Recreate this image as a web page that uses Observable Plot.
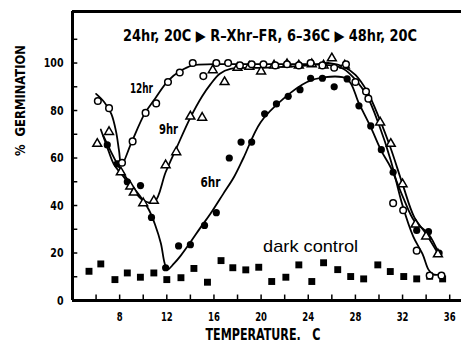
<!DOCTYPE html>
<html><head><meta charset="utf-8">
<script src="https://cdn.jsdelivr.net/npm/d3@7"></script>
<script src="https://cdn.jsdelivr.net/npm/@observablehq/plot@0.6"></script>
<style>
body{margin:0;background:#fff;}
</style></head><body><div id="chart"></div>
<script>
// 12hr (open circles)
const temp12 = [6.15,7.1,8.2,9.1,10.2,11.1,12.1,13.1,14.2,15.1,16.2,17.2,18.2,19.2,20.2,21.2,22.2,23.2,24.2,25.2,26.2,27.2,28.0,28.9,29.1,31.2,32.05,33.2,34.3,35.3];
const germ12 = [84,81,58,67,79,83,92,96,100,94.5,100,100,99,99.5,99.5,99,99.5,99,100,99,98,99.5,92,88,85,41,38,21,10.5,10.5];
const curve12T = [6.0,6.7,7.3,7.7,7.95,8.15,9.0,10.1,11.0,12.1,13.1,14.2,16,20,24,26,27,28,29,30,31,32,32.9,33.7,34.2,34.6,35.3];
const curve12G = [87,83.5,78.5,71,63,57,66.5,78.5,85,92.5,96.5,99,99.5,99.5,99.5,99,97.5,93,86,74,59,40,27,19.5,13,11,11];

// 9hr (open triangles)
const temp9 = [6.1,7.1,8.1,8.9,9.2,10.0,10.9,11.9,12.8,14.0,15.0,15.9,16.9,18.0,19.0,20.0,21.1,22.2,23.2,24.3,25.3,26.0,27.1,30.1,31.0,32.0,33.1,34.0,35.0];
const germ9 = [66,71,54,48,45.5,41,42,57,62.5,77.5,77,97,92,98,98.5,96.5,99,99.5,99,99.5,99,102,99,75,66,49,32,27,19.5];
const curve9T = [6.4,6.95,7.5,8.35,9.2,10.05,10.95,11.9,12.8,14,15,15.7,16.5,17.4,20,24,25.8,27,28,29,30,31,32,33,34,35.1];
const curve9G = [72,64.5,57.5,52,46.3,42,41.5,54,64,77,86,91,95.5,97.5,98,99,100,98.5,95,88,77,64,49,35,28,19];

// 6hr (filled circles)
const temp6 = [6.95,7.8,8.65,9.77,10.7,11.9,13.0,14.0,15.2,16.2,17.3,18.3,19.2,20.3,21.3,22.3,23.3,24.2,25.2,26.2,27.3,28.3,29.3,30.2,31.2,33.2,34.2,35.1];
const germ6 = [65.5,57.5,50,48.4,35,13.8,23,23.5,31.6,37,60,66.7,66.7,78.6,82.8,86,88.8,93.6,93.6,90,93.3,82,73.5,63.5,54,29.5,29,20];
const curve6T = [6.6,7.8,8.8,9.8,10.5,11.0,11.5,11.8,12.05,12.6,13.2,14.0,14.9,15.7,16.8,17.7,18.5,19.95,21.9,23.9,25.3,27.3,28.3,29.3,30.2,31,32,33,34.2,35.1];
const curve6G = [69.5,57.5,50,43.5,38,32,24,16,13,15.5,19,24.5,31,36.5,45,52,60,75,85,92,94,93.3,83,73,63,56,44,33.5,28,19.5];

// dark control (filled squares)
const tempDark = [5.4,6.4,7.6,8.65,9.76,10.9,12.0,13.2,14.3,15.45,16.6,17.6,18.7,19.8,20.9,22.1,23.2,24.3,25.3,26.5,27.6,28.7,29.9,30.96,32.1,33.2,34.3,35.4];
const germDark = [12.3,15.4,8.8,11.6,9.8,11.6,8.8,9.6,13.5,7.7,16.8,13.8,12.9,14,8,9.8,15,8,15.9,13,10.1,9.1,15,12.2,10.1,9.1,10.2,9.1];

const xTickValues = [6,8,10,12,14,16,18,20,22,24,26,28,30,32,34,36];
const xTickLabels = [8,12,16,20,24,28,32,36];
const yTickValues = [10,20,30,40,50,60,70,80,90,100,110];
const yTickLabels = [0,20,40,60,80,100];

const titleText = "24hr, 20C \u25B6 R\u2013Xhr\u2013FR, 6\u201336C \u25B6 48hr, 20C";
const seriesLabels = ["12hr", "9hr", "6hr"];
const darkLabel = "dark control";
const xLabel = "TEMPERATURE.\u00a0\u00a0\u00a0C";
const yLabel = "%\u00a0\u00a0GERMINATION";

const rows = (xs, ys) => xs.map((x, i) => ({x, y: ys[i]}));
const narrow = "'Liberation Sans Narrow', 'DejaVu Sans Condensed', sans-serif";
const yTop = 121.7;

const chart = Plot.plot({
  width: 461, height: 347,
  marginLeft: 72, marginRight: 0, marginTop: 11, marginBottom: 47,
  x: {domain: [4, 37]},
  y: {domain: [0, yTop]},
  style: {fontFamily: narrow, fontWeight: "bold", background: "white", color: "black"},
  marks: [
    Plot.ruleX(xTickValues, {y1: 0, y2: 2.3, strokeWidth: 1.5}),
    Plot.ruleY(yTickValues, {x1: 4, x2: 4.45, strokeWidth: 1.5}),
    Plot.ruleX([4], {strokeWidth: 3}),
    Plot.ruleY([0], {strokeWidth: 3}),
    Plot.ruleY([yTop], {strokeWidth: 3}),
    Plot.axisX({ticks: xTickLabels, tickSize: 0, tickPadding: 11, fontSize: 13, label: null}),
    Plot.axisY({ticks: yTickLabels, tickSize: 0, tickPadding: 9, fontSize: 13, label: null}),
    Plot.line(rows(curve12T, curve12G), {x: "x", y: "y", curve: "catmull-rom", strokeWidth: 1.8}),
    Plot.line(rows(curve9T, curve9G), {x: "x", y: "y", curve: "catmull-rom", strokeWidth: 1.8}),
    Plot.line(rows(curve6T, curve6G), {x: "x", y: "y", curve: "catmull-rom", strokeWidth: 1.8}),
    Plot.dot(rows(tempDark, germDark), {x: "x", y: "y", symbol: "square", r: 3.9, fill: "black"}),
    Plot.dot(rows(temp6, germ6), {x: "x", y: "y", r: 3.6, fill: "black"}),
    Plot.dot(rows(temp9, germ9), {x: "x", y: "y", symbol: "triangle", r: 3.3, fill: "white", stroke: "black", strokeWidth: 1.5}),
    Plot.dot(rows(temp12, germ12), {x: "x", y: "y", r: 3.3, fill: "white", stroke: "black", strokeWidth: 1.5}),
    Plot.text([titleText], {x: 20.76, y: 111.2, fontSize: 15}),
    Plot.text([seriesLabels[0]], {x: 9.85, y: 89.3, fontSize: 14}),
    Plot.text([seriesLabels[1]], {x: 12.14, y: 72, fontSize: 14}),
    Plot.text([seriesLabels[2]], {x: 15.7, y: 49.7, fontSize: 14}),
    Plot.text([darkLabel], {x: 24.2, y: 22.7, fontSize: 17, fontWeight: "normal", fontFamily: "'Liberation Sans', Arial, sans-serif"}),
    Plot.text([xLabel], {frameAnchor: "bottom", dy: 39.5, dx: -4, fontSize: 15}),
    Plot.text([yLabel], {frameAnchor: "left", dx: -52, rotate: -90, fontSize: 13.5})
  ]
});

// condense the bold lettering to the narrow widths of the reference
const fit = {[titleText]: 294, "12hr": 23, "9hr": 19, "6hr": 20, [darkLabel]: 95, [xLabel]: 115, [yLabel]: 111};
chart.querySelectorAll("text").forEach(t => {
  const s = t.textContent;
  if (fit[s]) {
    t.setAttribute("textLength", fit[s]);
    t.setAttribute("lengthAdjust", "spacingAndGlyphs");
  }
});
chart.querySelectorAll('g[aria-label="y-axis tick label"] text').forEach(t => {
  t.setAttribute("textLength", t.textContent.length * 6.6);
  t.setAttribute("lengthAdjust", "spacingAndGlyphs");
});
chart.querySelectorAll('g[aria-label="x-axis tick label"] text').forEach(t => {
  t.setAttribute("textLength", t.textContent.length * 5.9);
  t.setAttribute("lengthAdjust", "spacingAndGlyphs");
});
document.getElementById("chart").append(chart);
</script></body></html>
